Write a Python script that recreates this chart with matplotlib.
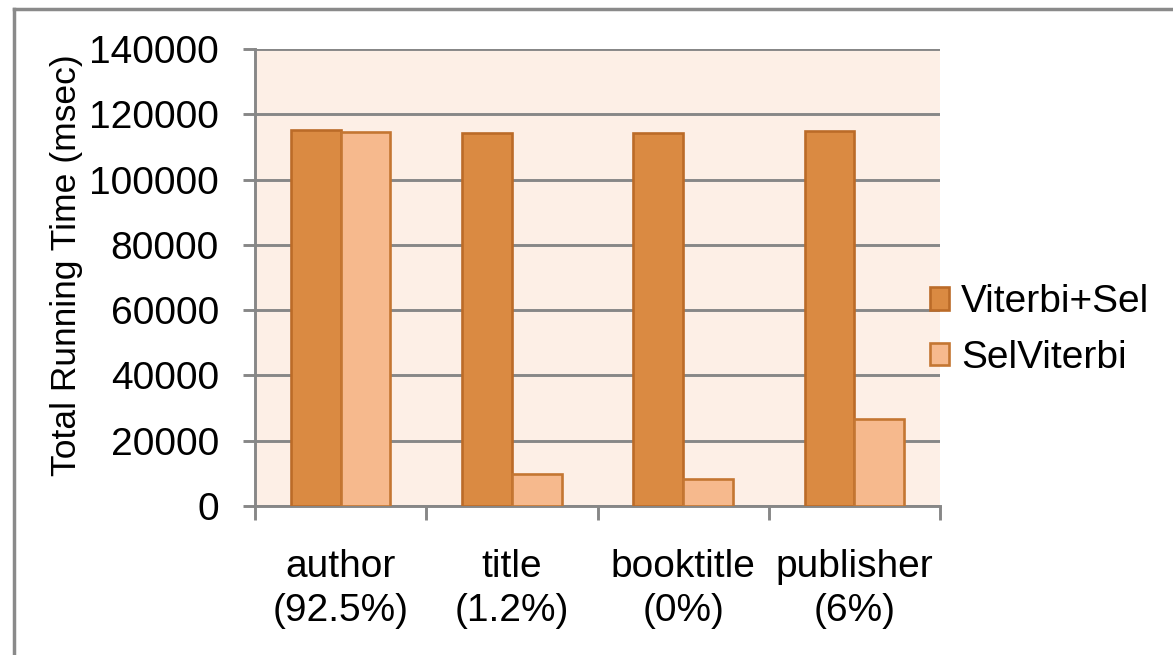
import matplotlib.pyplot as plt
import numpy as np
from matplotlib.lines import Line2D
from matplotlib.patches import Patch

plt.rcParams['font.family'] = ['Liberation Sans', 'DejaVu Sans']

categories = ['author\n(92.5%)', 'title\n(1.2%)', 'booktitle\n(0%)', 'publisher\n(6%)']
viterbi_sel = [115200, 114300, 114300, 114900]
sel_viterbi = [114600, 9800, 8300, 26700]
yticks = [0, 20000, 40000, 60000, 80000, 100000, 120000, 140000]

W, H = 1173, 655
fig = plt.figure(figsize=(W / 100, H / 100), dpi=100)
ax = fig.add_axes([255 / W, 1 - 506 / H, 685 / W, 457 / H])
ax.set_facecolor('#fdefe6')

x = np.arange(len(categories))
bw = 0.29
ax.bar(x - bw / 2, viterbi_sel, bw, color='#da8a42', edgecolor='#bb6b28', linewidth=1.9, zorder=3)
ax.bar(x + bw / 2, sel_viterbi, bw, color='#f6b98d', edgecolor='#c47632', linewidth=1.9, zorder=3)

ax.set_xlim(-0.5, 3.5)
ax.set_ylim(0, 140000)
ax.set_yticks(yticks)
ax.set_yticklabels([str(v) for v in yticks], fontsize=28)
ax.yaxis.grid(True, color='#878787', linewidth=2.1, zorder=1)
ax.set_axisbelow(True)

ax.set_xticks(x)
ax.set_xticklabels(categories, fontsize=28, linespacing=1.3)
ax.set_xticks(np.arange(-0.5, 4, 1), minor=True)
ax.tick_params(axis='x', which='major', length=0, pad=31)
ax.tick_params(axis='x', which='minor', length=10, width=2.1, color='#878787')
ax.tick_params(axis='y', length=9, width=2.1, color='#878787', pad=17)

for s in ['top', 'right']:
    ax.spines[s].set_visible(False)
for s in ['left', 'bottom']:
    ax.spines[s].set_color('#878787')
    ax.spines[s].set_linewidth(2.1)

fig.text(67 / W, 1 - 265 / H, 'Total Running Time (msec)', rotation=90,
         ha='center', va='center', fontsize=25.5)

handles = [Patch(facecolor='#da8a42', edgecolor='#bb6b28', linewidth=1.9),
           Patch(facecolor='#f6b98d', edgecolor='#c47632', linewidth=1.9)]
fig.legend(handles, ['Viterbi+Sel', 'SelViterbi'], loc='center left',
           bbox_to_anchor=(930 / W, 1 - 330 / H), frameon=False, fontsize=28,
           handlelength=0.5, handleheight=0.5, handletextpad=0.3,
           labelspacing=0.5, borderpad=0, borderaxespad=0)

# outer frame (left and top edges visible)
fig.add_artist(Line2D([14 / W, 14 / W], [0, 1 - 9 / H], transform=fig.transFigure,
                      color='#8a8a8a', linewidth=2.5))
fig.add_artist(Line2D([14 / W, 1], [1 - 9 / H, 1 - 9 / H], transform=fig.transFigure,
                      color='#8a8a8a', linewidth=2.5))

fig.savefig('out.png', dpi=100)
